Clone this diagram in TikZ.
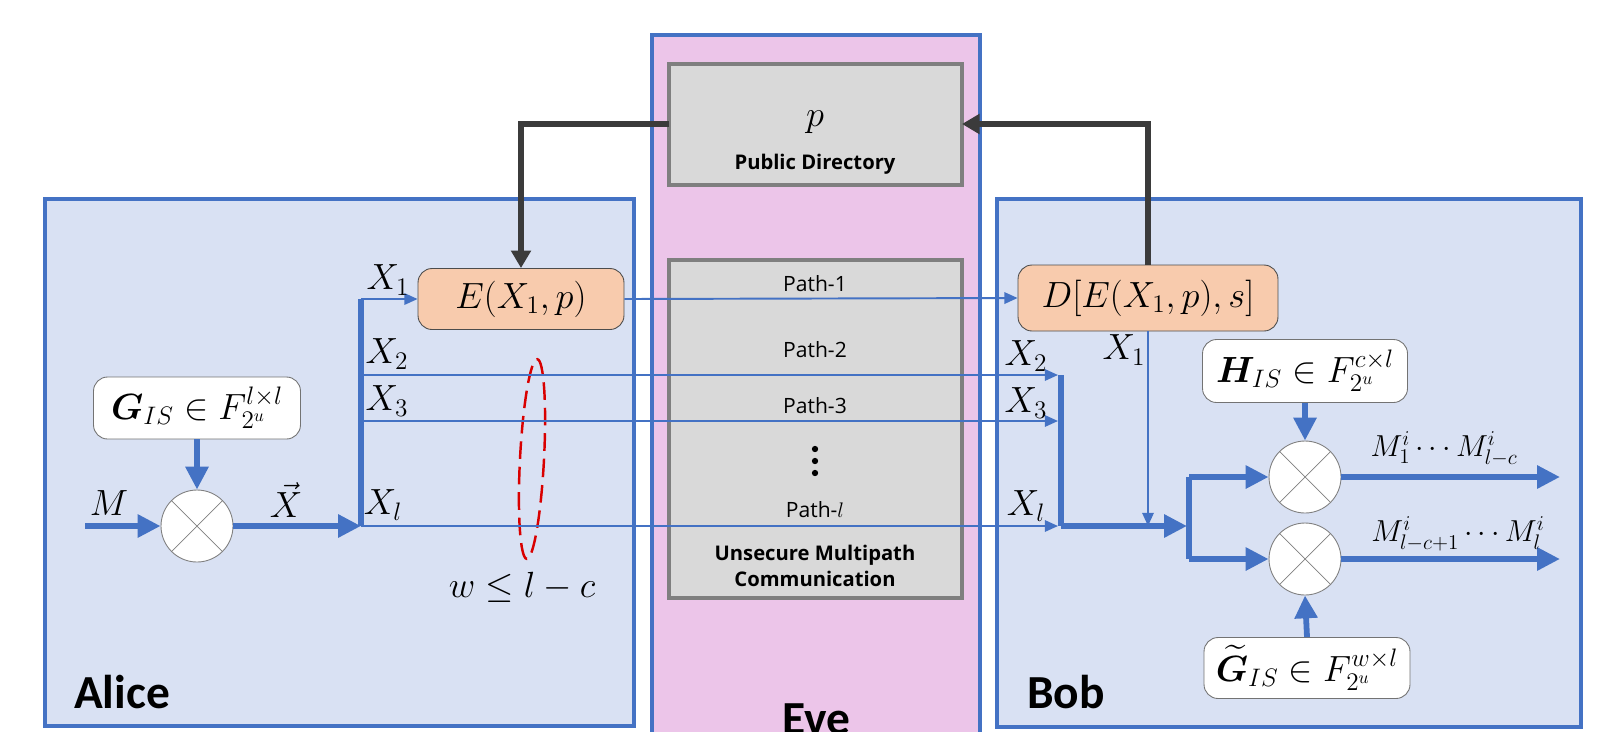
\documentclass[tikz,border=0pt]{standalone}
\usepackage{fontspec}
\usepackage{amsmath}
\usepackage{bm}
\setsansfont{Carlito}
\newfontfamily\uifont{Open Sans}
\usetikzlibrary{arrows.meta,calc}
\definecolor{lineblue}{HTML}{4472C4}
\definecolor{partyfill}{HTML}{D9E1F3}
\definecolor{evefill}{HTML}{ECC5E9}
\definecolor{grayfill}{HTML}{D9D9D9}
\definecolor{grayedge}{HTML}{7F7F7F}
\definecolor{orangefill}{HTML}{F8CBAD}
\definecolor{darkarrow}{HTML}{3B3B3B}
\tikzset{
  party/.style={draw=lineblue, line width=2.2pt, fill=partyfill},
  graybox/.style={draw=grayedge, line width=2.2pt, fill=grayfill},
  cipherbox/.style={draw=black!70, line width=0.5pt, fill=orangefill, rounded corners=8pt, inner sep=0pt},
  matbox/.style={draw=black!55, line width=0.5pt, fill=white, rounded corners=8pt, inner sep=0pt},
  mult/.style={circle, draw=black!50, line width=0.5pt, fill=white, minimum size=1.44cm, inner sep=0pt},
  thickflow/.style={draw=lineblue, line width=3.3pt},
  thickarrow/.style={thickflow, -{Triangle[length=13pt, width=12.5pt]}},
  thinflow/.style={draw=lineblue, line width=1.1pt},
  thinarrow/.style={thinflow, -{Triangle[length=7.5pt, width=6.5pt]}},
  pubarrow/.style={draw=darkarrow, line width=2.9pt, -{Triangle[length=10pt, width=11pt]}},
  mathlbl/.style={font=\fontsize{19.5}{22}\selectfont, inner sep=0pt},
  outlbl/.style={font=\fontsize{18}{20}\selectfont, inner sep=0pt},
  pathlbl/.style={font=\uifont\fontsize{12}{14}\selectfont, inner sep=0pt},
  boldlbl/.style={font=\uifont\bfseries\fontsize{11.5}{13}\selectfont, inner sep=0pt, align=center},
  partylbl/.style={font=\sffamily\bfseries\fontsize{27}{30}\selectfont, inner sep=0pt},
  dotmark/.style={circle, fill=black, inner sep=0pt, minimum size=3.6pt}
}
\newcommand{\crossmark}[1]{%
  \draw[black!50, line width=0.4pt] (#1.45) -- (#1.225) (#1.135) -- (#1.315);}
\begin{document}
\begin{tikzpicture}[x=0.02cm, y=-0.02cm]
\useasboundingbox (0,0) rectangle (1615,731);
\clip (0,0) rectangle (1615,731);
\fill[white] (0,0) rectangle (1615,731);

% party areas
\draw[party] (45,199) rectangle (634,726);
\draw[party, fill=evefill] (652,35) rectangle (980,760);
\draw[party] (997,199) rectangle (1581,727);

% Eve's boxes
\draw[graybox] (669,64) rectangle (962,185);
\coordinate (pdW) at (669,124);
\coordinate (pdE) at (962,124);
\node[mathlbl] (pval) at (815,122) {$p$};
\node[boldlbl] (pdname) at (815,164) {Public Directory};

\draw[graybox] (669,260) rectangle (962,598);
\node[pathlbl] (p1) at (815,284) {Path-1};
\node[pathlbl] (p2) at (815,350) {Path-2};
\node[pathlbl] (p3) at (815,406) {Path-3};
\node[dotmark] (d1) at (815,449) {};
\node[dotmark] (d2) at (815,461) {};
\node[dotmark] (d3) at (815,473) {};
\node[pathlbl] (pl) at (815,510) {Path-$l$};
\node[boldlbl] (umc) at (815,566) {Unsecure Multipath\\[2pt]Communication};

% party names
\node[partylbl] (alice) at (122,692) {Alice};
\node[partylbl] (bob) at (1066,692) {Bob};
\node[partylbl] (eve) at (816,719) {Eve};

% Alice side
\node[matbox, minimum width=4.14cm, minimum height=1.24cm, mathlbl] (G) at (197,408)
  {$\bm{G}_{IS}\in F_{2^u}^{l\times l}$};
\node[mult] (c0) at (197,526) {};
\crossmark{c0}
\node[cipherbox, minimum width=4.12cm, minimum height=1.22cm, mathlbl] (E) at (521,299) {$E(X_1,p)$};

\coordinate (min) at (85,526);
\coordinate (busB) at (361,526);
\coordinate (busT) at (361,299);
\coordinate (bus2) at (361,375);
\coordinate (bus3) at (361,421);

\draw[thickarrow] (min) -- (c0.west);
\draw[thickarrow] (G.south) -- (c0.north);
\draw[thickarrow] (c0.east) -- (busB);
\draw[thickflow] (busT) -- (busB);
\draw[thinarrow] (busT) -- (E.west);

\node[mathlbl] (lM) at (109,503) {$M$};
\node[mathlbl] (lX) at (286,500) {$\vec{X}$};
\node[mathlbl] (la1) at (388,280) {$X_1$};
\node[mathlbl] (la2) at (387,354) {$X_2$};
\node[mathlbl] (la3) at (387,401) {$X_3$};
\node[mathlbl] (lal) at (383,505) {$X_l$};

% wiretap ellipse
\draw[red!85!black, line width=1.4pt, dash pattern=on 10pt off 4.5pt, rotate around={-3:(532,459)}]
  (532,459) ellipse [x radius=12, y radius=100];
\node[mathlbl] (wlbl) at (522,587) {$w\le l-c$};

% Bob side
\node[cipherbox, minimum width=5.2cm, minimum height=1.32cm, mathlbl] (D) at (1148,298) {$D[E(X_1,p),s]$};
\node[matbox, minimum width=4.1cm, minimum height=1.26cm, mathlbl] (H) at (1305,371)
  {$\bm{H}_{IS}\in F_{2^u}^{c\times l}$};
\node[matbox, minimum width=4.12cm, minimum height=1.22cm, mathlbl] (Gt) at (1307,668)
  {$\widetilde{\bm{G}}_{IS}\in F_{2^u}^{w\times l}$};
\node[mult] (c1) at (1305,477) {};
\crossmark{c1}
\node[mult] (c2) at (1305,559) {};
\crossmark{c2}

\coordinate (in2) at (1058,375);
\coordinate (in3) at (1058,421);
\coordinate (inl) at (1058,526);
\coordinate (bbT) at (1061,375);
\coordinate (bbB) at (1061,526);
\coordinate (join) at (1187,526);
\coordinate (splitT) at (1189,477);
\coordinate (splitB) at (1189,559);
\coordinate (x1drop) at (1148,526);
\coordinate (out1) at (1560,477);
\coordinate (out2) at (1560,559);

% paths through the channel
\draw[thinarrow] (E.east) -- (D.west);
\draw[thinarrow] (bus2) -- (in2);
\draw[thinarrow] (bus3) -- (in3);
\draw[thinarrow] (busB) -- (inl);

\draw[thickflow] (bbT) -- (bbB);
\draw[thickarrow] (bbB) -- (join);
\draw[thickflow] (splitT) -- (splitB);
\draw[thickarrow] (splitT) -- (c1.west);
\draw[thickarrow] (splitB) -- (c2.west);
\draw[thinarrow] (D.south) -- (x1drop);
\draw[thickarrow] (H.south) -- (c1.north);
\draw[thickarrow] (Gt.north) -- (c2.south);
\draw[thickarrow] (c1.east) -- (out1);
\draw[thickarrow] (c2.east) -- (out2);

\node[mathlbl] (lb2) at (1026,356) {$X_2$};
\node[mathlbl] (lb3) at (1026,403) {$X_3$};
\node[mathlbl] (lbl) at (1026,506) {$X_l$};
\node[mathlbl] (lb1) at (1124,350) {$X_1$};
\node[outlbl] (o1) at (1444,449) {$M_1^i\cdots M_{l-c}^i$};
\node[outlbl] (o2) at (1458,534) {$M_{l-c+1}^i\cdots M_l^i$};

% public directory exchange
\draw[pubarrow] (pdW) -| (E.north);
\draw[pubarrow] (D.north) |- (pdE);
\end{tikzpicture}
\end{document}
